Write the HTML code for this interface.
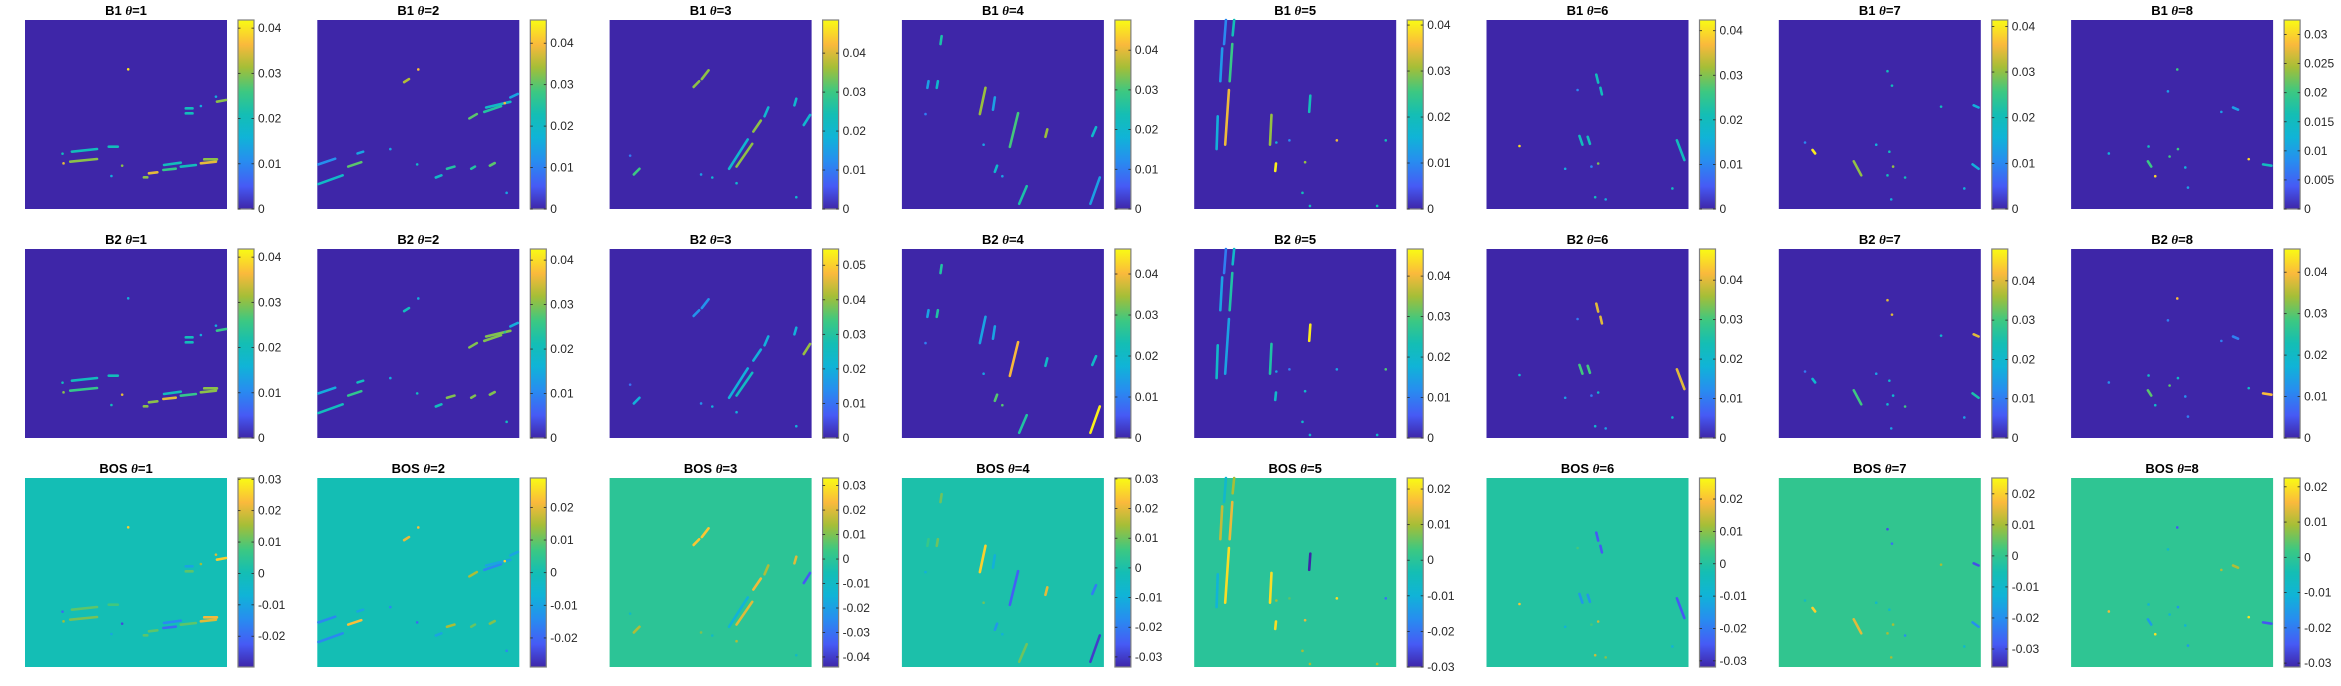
<!DOCTYPE html>
<html><head><meta charset="utf-8"><style>
html,body{margin:0;padding:0;background:#fff;}
svg{display:block;font-family:"Liberation Sans",Arial,sans-serif;}
</style></head><body>
<svg id="fig" width="2341" height="686" viewBox="0 0 2341 686" xmlns="http://www.w3.org/2000/svg">
<defs id="defs"></defs>
</svg>
<script>
// ---- data ----
const rowNames = ['B1','B2','BOS'];
const thetas = [1,2,3,4,5,6,7,8];
const b1Max = [0.0418,0.0456,0.0485,0.0476,0.0411,0.0424,0.0414,0.0325];
const b2Max = [0.0418,0.0425,0.0547,0.0461,0.0467,0.0479,0.0481,0.0456];
const bosMin = [-0.0298,-0.0289,-0.0441,-0.0334,-0.0300,-0.0319,-0.0358,-0.0311];
const bosMax = [0.0304,0.0290,0.0331,0.0303,0.0231,0.0265,0.0251,0.0225];
const b1Ticks = [[0,.01,.02,.03,.04],[0,.01,.02,.03,.04],[0,.01,.02,.03,.04],[0,.01,.02,.03,.04],[0,.01,.02,.03,.04],[0,.01,.02,.03,.04],[0,.01,.02,.03,.04],[0,.005,.01,.015,.02,.025,.03]];
const b2Ticks = [[0,.01,.02,.03,.04],[0,.01,.02,.03,.04],[0,.01,.02,.03,.04,.05],[0,.01,.02,.03,.04],[0,.01,.02,.03,.04],[0,.01,.02,.03,.04],[0,.01,.02,.03,.04],[0,.01,.02,.03,.04]];
const bosTicks = [[-.02,-.01,0,.01,.02,.03],[-.02,-.01,0,.01,.02],[-.04,-.03,-.02,-.01,0,.01,.02,.03],[-.03,-.02,-.01,0,.01,.02,.03],[-.03,-.02,-.01,0,.01,.02],[-.03,-.02,-.01,0,.01,.02],[-.03,-.02,-.01,0,.01,.02],[-.03,-.02,-.01,0,.01,.02]];
// source frames of traced streaks: [x0, width, y0, height]
const srcFrame = [[75,603,60,567],[72,542,45,432],[855,541,45,432],[72,539,45,432],[855,541,45,432],[72,539,45,432],[855,539,45,432],[90,605,45,432]];
// streak features: [x0,y0,x1,y1] in traced source coords
const streaks = [
 [[215,455,290,447],[210,485,290,477],[325,440,352,440],[490,495,540,488],[488,510,525,506],[540,500,585,495],[600,490,645,485],[610,478,648,478],[445,520,470,517],[430,532,440,532],[365,497,365,497],[383,208,383,208],[187,461,187,461],[190,490,190,490],[555,325,575,325],[555,340,575,340],[600,318,600,318],[645,290,645,290],[648,305,675,300],[333,528,333,528]],
 [[75,420,140,400],[75,375,120,362],[155,380,190,370],[180,350,195,346],[305,187,318,180],[343,158,343,158],[480,270,500,260],[520,255,565,242],[525,245,590,232],[575,235,575,235],[590,222,610,214],[420,385,440,380],[390,405,405,400],[485,385,495,380],[535,378,548,372],[580,440,580,440],[340,375,340,375],[268,340,268,340]],
 [[1080,198,1095,185],[1102,180,1120,160],[1175,385,1225,318],[1195,380,1237,328],[1240,300,1260,275],[1270,265,1280,245],[1350,240,1355,225],[1375,285,1392,262],[920,398,935,385],[1355,450,1355,450],[1130,405,1130,405],[1100,398,1100,398],[1195,418,1195,418],[910,355,910,355]],
 [[280,260,295,200],[360,335,382,258],[175,100,178,82],[165,200,168,185],[140,200,143,185],[315,250,320,222],[455,312,460,295],[580,310,590,290],[385,465,405,425],[575,465,600,405],[320,392,326,378],[340,402,340,402],[290,330,290,330],[135,260,135,260]],
 [[938,330,948,205],[950,185,957,100],[958,80,962,45],[915,340,918,265],[925,185,930,110],[935,100,940,45],[1058,330,1062,262],[1163,255,1166,218],[1072,390,1074,373],[1237,320,1237,320],[1152,370,1152,370],[1145,440,1145,440],[1165,470,1165,470],[1368,320,1368,320],[1345,470,1345,470],[1075,325,1075,325],[1110,320,1110,320]],
 [[365,170,370,188],[376,200,380,215],[320,310,328,330],[342,312,348,328],[160,333,160,333],[370,373,370,373],[580,320,600,365],[568,430,568,430],[362,450,362,450],[315,205,315,205],[282,385,282,385],[352,380,352,380],[390,455,390,455]],
 [[945,342,952,350],[1055,368,1075,400],[1145,162,1145,162],[1157,195,1157,195],[1160,380,1160,380],[1145,400,1145,400],[1192,405,1192,405],[1115,330,1115,330],[1150,346,1150,346],[1288,243,1288,243],[1375,240,1388,245],[1350,430,1350,430],[1372,375,1388,385],[925,325,925,325],[1155,455,1155,455]],
 [[408,158,408,158],[320,368,330,380],[342,402,342,402],[410,340,410,340],[385,357,385,357],[622,363,622,363],[665,375,690,378],[380,208,380,208],[575,245,590,250],[540,255,540,255],[432,382,432,382],[440,428,440,428],[322,334,322,334],[203,350,203,350]]
];
const b1Vals = [
 [.02,.03,.02,.02,.025,.02,.035,.03,.035,.03,.03,.04,.02,.035,.02,.02,.015,.015,.03,.015],
 [.02,.012,.03,.015,.035,.04,.03,.025,.02,.04,.015,.025,.02,.025,.03,.015,.02,.015],
 [.035,.035,.02,.035,.035,.02,.02,.02,.03,.02,.02,.015,.02,.01],
 [.035,.03,.025,.02,.015,.015,.035,.02,.025,.015,.02,.015,.015,.01],
 [.035,.025,.02,.015,.012,.01,.03,.02,.04,.035,.03,.02,.02,.02,.02,.015,.01],
 [.02,.02,.02,.02,.04,.03,.02,.02,.02,.01,.015,.01,.015],
 [.04,.03,.02,.02,.03,.02,.02,.015,.02,.02,.015,.015,.015,.01,.015],
 [.02,.02,.03,.02,.02,.03,.015,.01,.01,.01,.012,.01,.015,.012]
];
const b2Vals = [
 [.02,.025,.02,.02,.035,.025,.03,.03,.03,.03,.035,.015,.02,.03,.02,.02,.015,.015,.025,.02],
 [.02,.015,.025,.02,.02,.015,.03,.03,.03,.025,.015,.03,.02,.03,.03,.02,.02,.015],
 [.015,.015,.02,.025,.02,.02,.02,.04,.02,.02,.02,.015,.02,.01],
 [.015,.04,.025,.025,.015,.015,.02,.02,.025,.045,.03,.03,.015,.01],
 [.015,.025,.02,.02,.015,.01,.025,.045,.02,.015,.02,.02,.02,.03,.02,.015,.01],
 [.04,.04,.03,.03,.02,.02,.04,.02,.02,.01,.015,.01,.015],
 [.02,.03,.04,.04,.02,.02,.03,.015,.02,.02,.04,.015,.025,.01,.015],
 [.04,.03,.02,.02,.03,.02,.04,.01,.01,.01,.012,.01,.02,.012]
];
const bosVals = [
 [.01,.012,.008,-.015,-.02,.01,.02,.022,.01,.01,-.025,.025,-.02,.015,-.01,.01,.015,.02,.025,-.01],
 [-.015,-.015,.022,-.01,.02,.022,.015,-.015,-.01,.025,-.01,.015,-.01,.01,.012,-.015,-.02,-.015],
 [.025,.025,-.015,.02,.022,.015,.02,-.035,.015,-.01,-.01,.01,.015,-.01],
 [.025,-.025,.01,.01,.005,-.01,.02,-.02,.01,-.03,-.015,-.01,.01,-.01],
 [.02,.015,.01,-.01,.012,-.008,.02,-.03,.02,.02,.015,.01,.01,-.02,.01,.01,.005],
 [-.025,-.025,-.015,-.015,.02,.015,-.025,-.01,.015,.005,-.01,.005,.01],
 [.02,.015,-.03,-.025,.01,.01,-.02,-.01,-.01,.01,-.03,-.01,-.02,-.008,.01],
 [-.025,-.015,.02,-.015,-.01,.02,-.025,-.008,.01,.01,-.01,-.015,-.01,.015]
];
// ---- rendering ----
const parula = [[0,[62,38,168]],[0.12,[70,90,245]],[0.25,[40,140,240]],[0.38,[16,180,215]],[0.5,[20,190,180]],[0.62,[60,200,130]],[0.75,[165,190,55]],[0.87,[250,185,60]],[1,[249,251,20]]];
function cmap(t){t=Math.max(0,Math.min(1,t));for(let i=1;i<parula.length;i++){if(t<=parula[i][0]){const a=parula[i-1],b=parula[i];const f=(t-a[0])/(b[0]-a[0]);const c=a[1].map((v,k)=>Math.round(v+(b[1][k]-v)*f));return 'rgb('+c.join(',')+')';}}return 'rgb(249,251,20)';}
const NS='http://www.w3.org/2000/svg';
const svg=document.getElementById('fig');
const defs=document.getElementById('defs');
function mk(tag,attrs,parent){const e=document.createElementNS(NS,tag);for(const k in attrs)e.setAttribute(k,attrs[k]);(parent||svg).appendChild(e);return e;}
const grad=mk('linearGradient',{id:'parula',x1:0,y1:1,x2:0,y2:0},defs);
parula.forEach(p=>mk('stop',{offset:p[0],'stop-color':'rgb('+p[1].join(',')+')'},grad));
const IMG_W=202, IMG_H=189, CB_W=16;
function colX(c){return 25+292.3*c;}
function rowY(r){return 20+229*r;}
function fmt(v){return String(+v.toFixed(3));}
for(let r=0;r<3;r++){
 for(let c=0;c<8;c++){
  const x=colX(c), y=rowY(r);
  let vmin=0, vmax, vals, ticks;
  if(r===0){vmax=b1Max[c];vals=b1Vals[c];ticks=b1Ticks[c];}
  else if(r===1){vmax=b2Max[c];vals=b2Vals[c];ticks=b2Ticks[c];}
  else {vmin=bosMin[c];vmax=bosMax[c];vals=bosVals[c];ticks=bosTicks[c];}
  const norm=v=>(v-vmin)/(vmax-vmin);
  const g=mk('g',{});
  
  
  const t=mk('text',{x:x+IMG_W/2,y:y-5,'text-anchor':'middle','font-size':13,'font-weight':'bold',fill:'#000'},g);
  
  
  t.appendChild(document.createTextNode(rowNames[r]+' '));
  const ts=mk('tspan',{'font-style':'italic','font-family':'"Liberation Serif",serif'},t);ts.textContent='θ';
  t.appendChild(document.createTextNode('='+thetas[c]));
  const bg=mk('rect',{x:x,y:y,width:IMG_W,height:IMG_H,fill:cmap(norm(0))},g);
  
  
  const fr=srcFrame[c];
  streaks[c].forEach((s,i)=>{
   const x0=x+(s[0]-fr[0])/fr[1]*IMG_W, y0=y+(s[1]-fr[2])/fr[3]*IMG_H;
   const x1=x+(s[2]-fr[0])/fr[1]*IMG_W, y1=y+(s[3]-fr[2])/fr[3]*IMG_H;
   const ln=mk('line',{x1:x0,y1:y0,x2:x1,y2:y1,stroke:cmap(norm(vals[i])),'stroke-width':2.6,'stroke-linecap':'round'},g);
   
   
  });
  const cx=x+213;
  const cb=mk('rect',{x:cx,y:y,width:CB_W,height:IMG_H,fill:'url(#parula)',stroke:'#808080','stroke-width':1.2},g);
  
  
  ticks.forEach(v=>{
   const ty=y+IMG_H-norm(v)*IMG_H;
   mk('line',{x1:cx,y1:ty,x2:cx+2.5,y2:ty,stroke:'#262626','stroke-width':0.8},g);
   mk('line',{x1:cx+CB_W-2.5,y1:ty,x2:cx+CB_W,y2:ty,stroke:'#262626','stroke-width':0.8},g);
   const lb=mk('text',{x:cx+CB_W+4,y:ty+4,'font-size':12,fill:'#262626'},g);
   
   
   lb.textContent=fmt(v);
  });
 }
}
</script>
</body></html>
